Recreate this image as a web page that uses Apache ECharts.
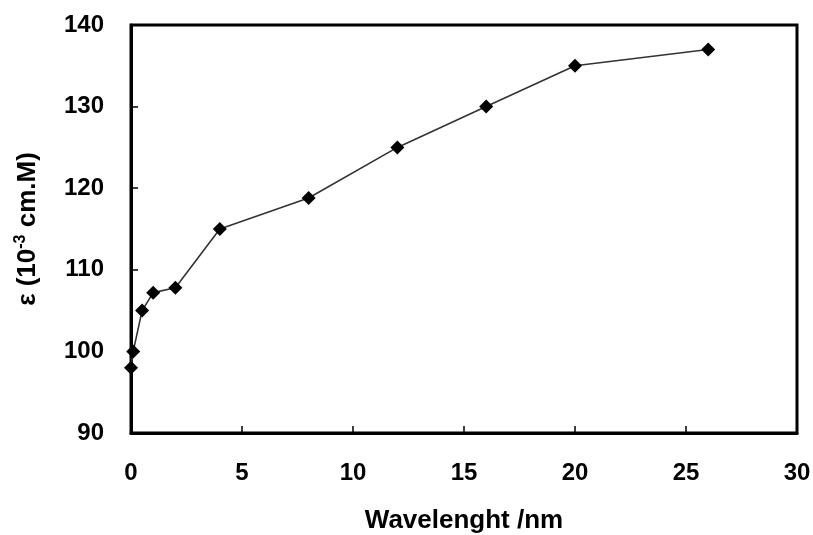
<!DOCTYPE html>
<html>
<head>
<meta charset="utf-8">
<script src="https://cdn.jsdelivr.net/npm/echarts@6/dist/echarts.min.js"></script>
<style>html,body{margin:0;padding:0;background:#fff}#c{width:813px;height:535px}</style>
</head>
<body>
<div id="c"></div>
<script>
const wavelength = [0, 0.1, 0.5, 1, 2, 4, 8, 12, 16, 20, 26];
const epsilon = [98, 100, 105, 107.2, 107.8, 115, 118.8, 125, 130, 135, 137];
const xTicks = [0, 5, 10, 15, 20, 25, 30];
const yTicks = [90, 100, 110, 120, 130, 140];

const font = 'Liberation Sans, Arial, sans-serif';
const chart = echarts.init(document.getElementById('c'));
chart.setOption({
  animation: false,
  backgroundColor: '#fff',
  grid: { left: 131, right: 16, top: 25, bottom: 102, show: true, borderColor: '#000', borderWidth: 3, outerBoundsMode: 'none', containLabel: false },
  xAxis: {
    type: 'value', min: xTicks[0], max: xTicks[xTicks.length - 1], interval: 5,
    name: 'Wavelenght /nm', nameLocation: 'middle', nameGap: 75,
    nameTextStyle: { fontFamily: font, fontWeight: 'bold', fontSize: 26, color: '#000' },
    axisLine: { lineStyle: { color: '#000', width: 3 } },
    axisTick: { inside: true, length: 7, lineStyle: { color: '#000', width: 1.5 } },
    axisLabel: { margin: 28, fontFamily: font, fontWeight: 'bold', fontSize: 24, color: '#000' },
    splitLine: { show: false }
  },
  yAxis: {
    type: 'value', min: yTicks[0], max: yTicks[yTicks.length - 1], interval: 10,
    name: '{a|ε (10}{s|-3}{a| cm.M)}', nameLocation: 'middle', nameGap: 88, nameRotate: 90,
    nameTextStyle: {
      rich: {
        a: { fontFamily: font, fontWeight: 'bold', fontSize: 26, color: '#000', lineHeight: 30 },
        s: { fontFamily: font, fontWeight: 'bold', fontSize: 16, color: '#000', verticalAlign: 'top', padding: [0, 0, 12, 0] }
      }
    },
    axisLine: { lineStyle: { color: '#000', width: 3 } },
    axisTick: { inside: true, length: 7, lineStyle: { color: '#000', width: 1.5 } },
    axisLabel: { margin: 27, fontFamily: font, fontWeight: 'bold', fontSize: 24, color: '#000' },
    splitLine: { show: false }
  },
  series: [{
    type: 'line',
    data: wavelength.map((x, i) => [x, epsilon[i]]),
    symbol: 'diamond', symbolSize: 14,
    itemStyle: { color: '#000' },
    lineStyle: { color: '#333', width: 1.6 }
  }]
});
</script>
</body>
</html>
